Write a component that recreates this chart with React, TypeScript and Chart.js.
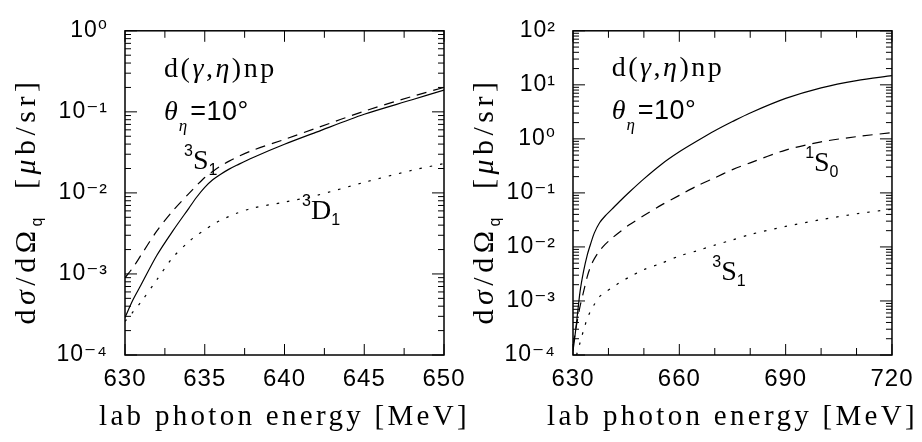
import React, { useEffect, useRef } from 'react';
import { Chart, registerables } from 'chart.js';

Chart.register(...registerables);

// ---------------- data ----------------
const leftEnergy = [630, 630.5, 631, 632, 633, 634, 634.5, 635, 635.5, 636, 636.5, 637, 638, 640, 642, 645, 648, 650];
const leftTotal = [2.9e-4, 4.8e-4, 7.3e-4, 1.7e-3, 3.4e-3, 6.46e-3, 8.9e-3, 1.17e-2, 1.45e-2, 1.7e-2, 1.95e-2, 2.19e-2, 2.72e-2, 3.98e-2, 5.62e-2, 9.33e-2, 0.141, 0.186];
const left3S1 = [9e-4, 1.2e-3, 1.7e-3, 3.4e-3, 6.0e-3, 9.8e-3, 1.24e-2, 1.55e-2, 1.84e-2, 2.15e-2, 2.45e-2, 2.75e-2, 3.35e-2, 4.57e-2, 6.3e-2, 0.102, 0.155, 0.2];
const left3D1 = [2.6e-4, 3.4e-4, 4.5e-4, 8.5e-4, 1.6e-3, 2.5e-3, 3.0e-3, 3.5e-3, 4.05e-3, 4.6e-3, 5.1e-3, 5.6e-3, 6.5e-3, 7.7e-3, 9.3e-3, 1.35e-2, 1.9e-2, 2.3e-2];

const rightEnergy = [630, 630.5, 631, 632, 633, 634, 635, 636, 637.5, 639, 641, 643, 646, 650, 655, 660, 665, 670, 675, 680, 690, 700, 710, 720];
const rightTotal = [1.2e-4, 2.1e-4, 4e-4, 1.5e-3, 3.6e-3, 7e-3, 1.15e-2, 1.8e-2, 2.8e-2, 3.7e-2, 5e-2, 6.8e-2, 0.105, 0.182, 0.34, 0.575, 0.91, 1.41, 2.09, 3.02, 5.6, 8.8, 12.0, 14.8];
const right1S0 = [1.5e-4, 2.3e-4, 3.6e-4, 8e-4, 1.5e-3, 2.8e-3, 4.4e-3, 6.0e-3, 8.5e-3, 1.1e-2, 1.45e-2, 1.85e-2, 2.6e-2, 3.8e-2, 6.0e-2, 9.0e-2, 0.135, 0.19, 0.27, 0.36, 0.62, 0.88, 1.1, 1.3];
const right3S1: (number | null)[] = [null, null, 1.0e-4, 1.7e-4, 2.9e-4, 4.7e-4, 6.6e-4, 8.6e-4, 1.2e-3, 1.45e-3, 1.75e-3, 2.15e-3, 2.8e-3, 3.8e-3, 5.0e-3, 6.8e-3, 8.5e-3, 1.08e-2, 1.35e-2, 1.7e-2, 2.4e-2, 3.2e-2, 4.1e-2, 5.0e-2];

const leftXTicks = [630, 635, 640, 645, 650];
const leftXMinor = [632.5, 637.5, 642.5, 647.5];
const rightXTicks = [630, 660, 690, 720];
const rightXMinor = [640, 650, 670, 680, 700, 710];
const leftYTicks = [1e-4, 1e-3, 1e-2, 1e-1, 1];
const rightYTicks = [1e-4, 1e-3, 1e-2, 1e-1, 1, 10, 100];

const xTitle = 'lab photon energy [MeV]';

// ---------------- styling ----------------
const SERIF = '"Liberation Serif", "DejaVu Serif", serif';
const SANS = '"Liberation Sans", "DejaVu Sans", sans-serif';

const SUP: Record<string, string> = { '-': '⁻', '0': '⁰', '1': '¹', '2': '²', '3': '³', '4': '⁴', '5': '⁵' };
const expLabel = (v: number) => {
  const e = Math.round(Math.log10(v));
  return '10' + String(e).split('').map((c) => SUP[c]).join('');
};

type Seg = { t: string; font: string; dy?: number; ls?: number };
type Label = { x: number; y: number; segs: Seg[] };

const reaction = (): Seg[] => [
  { t: 'd(', font: `28px ${SERIF}`, ls: 2.5 },
  { t: 'γ', font: `italic 28px ${SERIF}`, ls: 2.5 },
  { t: ',', font: `28px ${SERIF}`, ls: 2.5 },
  { t: 'η', font: `italic 28px ${SERIF}`, ls: 2.5 },
  { t: ')np', font: `28px ${SERIF}`, ls: 2.5 },
];
const angle = (): Seg[] => [
  { t: 'θ', font: `italic 28px ${SERIF}`, ls: 1 },
  { t: 'η', font: `italic 17px ${SERIF}`, dy: 11, ls: 3 },
  { t: '=10°', font: `27px ${SANS}`, ls: 0.5 },
];
const wave = (sup: string, letter: string, sub: string): Seg[] => [
  { t: sup, font: `16px ${SANS}`, dy: -13 },
  { t: letter, font: `28px ${SERIF}` },
  { t: sub, font: `16px ${SANS}`, dy: 6 },
];
const yTitleSegs = (): Seg[] => [
  { t: 'd', font: `30px ${SERIF}`, ls: 4.5 },
  { t: 'σ', font: `italic 30px ${SERIF}`, ls: 4.5 },
  { t: '/dΩ', font: `30px ${SERIF}`, ls: 4.5 },
  { t: 'q', font: `16px ${SANS}`, dy: 7, ls: 4.5 },
  { t: '  [', font: `30px ${SERIF}`, ls: 4.5 },
  { t: 'μ', font: `italic 30px ${SERIF}`, ls: 4.5 },
  { t: 'b/sr]', font: `30px ${SERIF}`, ls: 4.5 },
];
const xTitleSegs = (): Seg[] => [{ t: xTitle, font: `29px ${SERIF}`, ls: 3.3 }];

interface Panel {
  energy: number[];
  solid: (number | null)[];
  dashed: (number | null)[];
  dotted: (number | null)[];
  xMin: number;
  xMax: number;
  yMin: number;
  yMax: number;
  xTicks: number[];
  xMinor: number[];
  yTicks: number[];
  padLeft: number;
  padRight: number;
  yAxisWidth: number;
  yTitleX: number;
  labels: Label[];
}

const leftPanel: Panel = {
  energy: leftEnergy,
  solid: leftTotal,
  dashed: left3S1,
  dotted: left3D1,
  xMin: 630,
  xMax: 650,
  yMin: 1e-4,
  yMax: 1,
  xTicks: leftXTicks,
  xMinor: leftXMinor,
  yTicks: leftYTicks,
  padLeft: 0,
  padRight: 478,
  yAxisWidth: 125,
  yTitleX: 35,
  labels: [
    { x: 632.45, y: 0.27, segs: reaction() },
    { x: 632.45, y: 0.08, segs: angle() },
    { x: 633.7, y: 0.02, segs: wave('3', 'S', '1') },
    { x: 641.1, y: 0.0048, segs: wave('3', 'D', '1') },
  ],
};

const rightPanel: Panel = {
  energy: rightEnergy,
  solid: rightTotal,
  dashed: right1S0,
  dotted: right3S1,
  xMin: 630,
  xMax: 720,
  yMin: 1e-4,
  yMax: 100,
  xTicks: rightXTicks,
  xMinor: rightXMinor,
  yTicks: rightYTicks,
  padLeft: 460,
  padRight: 29,
  yAxisWidth: 113,
  yTitleX: 493,
  labels: [
    { x: 640.9, y: 14.5, segs: reaction() },
    { x: 640.9, y: 2.3, segs: angle() },
    { x: 695.5, y: 0.25, segs: wave('1', 'S', '0') },
    { x: 669.3, y: 0.0024, segs: wave('3', 'S', '1') },
  ],
};

function segWidth(ctx: CanvasRenderingContext2D, segs: Seg[]) {
  let w = 0;
  for (const s of segs) {
    ctx.font = s.font;
    (ctx as any).letterSpacing = `${s.ls ?? 0}px`;
    w += ctx.measureText(s.t).width;
  }
  return w;
}

function drawSegs(ctx: CanvasRenderingContext2D, segs: Seg[], x: number, y: number) {
  let cx = x;
  for (const s of segs) {
    ctx.font = s.font;
    (ctx as any).letterSpacing = `${s.ls ?? 0}px`;
    ctx.fillText(s.t, cx, y + (s.dy ?? 0));
    cx += ctx.measureText(s.t).width;
  }
}

function makePlugin(p: Panel) {
  return {
    id: 'frameAndText',
    beforeDraw(chart: any) {
      (chart.ctx as any).letterSpacing = '1px';
    },
    afterDraw(chart: any) {
      const { ctx, chartArea: a, scales } = chart;
      const xs = scales.x;
      const ys = scales.y;
      ctx.save();
      (ctx as any).letterSpacing = '0px';
      ctx.strokeStyle = '#000';
      ctx.lineWidth = 1;
      const line = (x1: number, y1: number, x2: number, y2: number) => {
        ctx.beginPath();
        ctx.moveTo(x1, y1);
        ctx.lineTo(x2, y2);
        ctx.stroke();
      };
      for (const v of p.xTicks) {
        const px = xs.getPixelForValue(v);
        line(px, a.bottom, px, a.bottom - 11);
        line(px, a.top, px, a.top + 11);
      }
      for (const v of p.xMinor) {
        const px = xs.getPixelForValue(v);
        line(px, a.bottom, px, a.bottom - 7);
        line(px, a.top, px, a.top + 7);
      }
      for (const v of p.yTicks) {
        const py = ys.getPixelForValue(v);
        line(a.left, py, a.left + 12, py);
        line(a.right, py, a.right - 12, py);
      }
      for (let d = 0; d < p.yTicks.length - 1; d++) {
        for (let k = 2; k <= 9; k++) {
          const py = ys.getPixelForValue(p.yTicks[d] * k);
          line(a.left, py, a.left + 6, py);
          line(a.right, py, a.right - 6, py);
        }
      }
      ctx.lineWidth = 1.5;
      ctx.strokeRect(a.left, a.top, a.right - a.left, a.bottom - a.top);

      ctx.fillStyle = '#000';
      ctx.textBaseline = 'alphabetic';
      ctx.textAlign = 'left';
      for (const l of p.labels) {
        drawSegs(ctx, l.segs, xs.getPixelForValue(l.x), ys.getPixelForValue(l.y));
      }
      const xt = xTitleSegs();
      const xw = segWidth(ctx, xt);
      drawSegs(ctx, xt, (a.left + a.right) / 2 - xw / 2, 425);
      const yt = yTitleSegs();
      const yw = segWidth(ctx, yt);
      ctx.translate(p.yTitleX, 201);
      ctx.rotate(-Math.PI / 2);
      drawSegs(ctx, yt, -yw / 2, 0);
      ctx.restore();
      (ctx as any).letterSpacing = '0px';
    },
  };
}

function makeConfig(p: Panel): any {
  const pts = (arr: (number | null)[]) => p.energy.map((e, i) => ({ x: e, y: arr[i] }));
  const base = {
    borderColor: '#000',
    borderWidth: 1.2,
    pointRadius: 0,
    fill: false,
    tension: 0.3,
    spanGaps: false,
  };
  return {
    type: 'line',
    data: {
      datasets: [
        { ...base, label: 'total', data: pts(p.solid) },
        { ...base, label: 'dashed', data: pts(p.dashed), borderDash: [10, 7] },
        { ...base, label: 'dotted', data: pts(p.dotted), borderDash: [2.5, 8] },
      ],
    },
    options: {
      animation: false,
      responsive: false,
      events: [],
      layout: { padding: { left: p.padLeft, right: p.padRight, top: 16, bottom: 0 } },
      plugins: { legend: { display: false }, tooltip: { enabled: false }, title: { display: false } },
      scales: {
        x: {
          type: 'linear',
          min: p.xMin,
          max: p.xMax,
          grid: { display: false, drawTicks: false },
          border: { display: false },
          afterBuildTicks: (s: any) => {
            s.ticks = p.xTicks.map((v) => ({ value: v }));
          },
          afterFit: (s: any) => {
            s.height = 87;
          },
          ticks: {
            color: '#000',
            font: { family: SANS, size: 24 },
            padding: 10,
            maxRotation: 0,
            autoSkip: false,
            callback: (v: number) => String(v),
          },
        },
        y: {
          type: 'logarithmic',
          min: p.yMin,
          max: p.yMax,
          grid: { display: false, drawTicks: false },
          border: { display: false },
          afterBuildTicks: (s: any) => {
            s.ticks = p.yTicks.map((v) => ({ value: v }));
          },
          afterFit: (s: any) => {
            s.width = p.yAxisWidth;
          },
          ticks: {
            color: '#000',
            font: { family: SANS, size: 23 },
            padding: 17,
            autoSkip: false,
            callback: (v: number) => expLabel(v),
          },
        },
      },
    },
    plugins: [makePlugin(p)],
  };
}

export default function App() {
  const leftRef = useRef<HTMLCanvasElement>(null);
  const rightRef = useRef<HTMLCanvasElement>(null);
  useEffect(() => {
    const c1 = new Chart(leftRef.current as HTMLCanvasElement, makeConfig(leftPanel));
    const c2 = new Chart(rightRef.current as HTMLCanvasElement, makeConfig(rightPanel));
    return () => {
      c1.destroy();
      c2.destroy();
    };
  }, []);
  return (
    <div style={{ position: 'fixed', left: 0, top: 0, width: 922, height: 442, background: '#fff' }}>
      <canvas ref={leftRef} width={922} height={442} style={{ position: 'absolute', left: 0, top: 0 }} />
      <canvas ref={rightRef} width={922} height={442} style={{ position: 'absolute', left: 0, top: 0 }} />
    </div>
  );
}
